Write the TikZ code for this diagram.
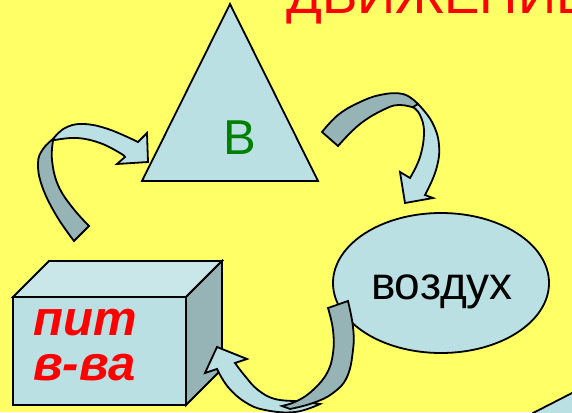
\documentclass[tikz,border=0pt]{standalone}
\usepackage{fontspec}
\setmainfont{Liberation Sans}
\definecolor{bg}{HTML}{FFFF66}
\definecolor{lb}{HTML}{BBE0E3}
\definecolor{db}{HTML}{96B3B5}
\definecolor{tb}{HTML}{C9E6E9}
\definecolor{gr}{HTML}{008000}
\tikzset{
  ln/.style={draw=black, line width=1.8pt, line join=miter},
  lightpart/.style={ln, fill=lb},
  darkpart/.style={ln, fill=db},
  toppart/.style={ln, fill=tb},
  sm/.style={smooth, tension=0.7},
}
\begin{document}
\begin{tikzpicture}[x=1pt,y=-1pt]
\useasboundingbox (0,0) rectangle (572,412);
\clip (0,0) rectangle (572,412);
\fill[bg] (0,0) rectangle (572,412);

% title (cut off at top)
\node[anchor=base west, inner sep=0, text=red, font=\fontsize{53}{60}\selectfont] (title) at (286,14) {ДВИЖЕНИЕ};

% triangle
\draw[lightpart] (230,4) -- (318,181) -- (142,181) -- cycle;
\node[text=gr, font=\fontsize{49}{55}\selectfont, inner sep=0] (tri) at (240,138) {В};

% ellipse
\draw[lightpart] (441,283) ellipse [x radius=108, y radius=70];
\node[anchor=base, inner sep=0, font=\fontsize{46}{52}\selectfont] (air) at (442,299) {воздух};

% cube
\draw[lightpart] (13,297) rectangle (186,405);
\draw[toppart] (13,297) -- (49,261) -- (222,261) -- (186,297) -- cycle;
\draw[darkpart] (186,297) -- (222,261) -- (222,369) -- (186,405) -- cycle;
\node[anchor=base west, inner sep=0, text=red, font=\fontsize{49}{45}\bfseries\itshape\selectfont] (l1) at (33,335) {пит};
\node[anchor=base west, inner sep=0, text=red, font=\fontsize{49}{45}\bfseries\itshape\selectfont] (l2) at (33,380) {в-ва};

% arrow A (cube -> triangle)
\draw[darkpart] plot[sm] coordinates {(74,241) (56,215) (42,186) (38,163) (43,149) (53,139)}
  -- plot[sm] coordinates {(53,141) (52,160) (58,185) (72,207) (89,226)} -- cycle;
\draw[lightpart] plot[sm] coordinates {(53,139) (65,128) (83,124) (108,129) (138,142)}
  -- (147,133) -- (148,162) -- (117,164) -- (125,157)
  -- plot[sm] coordinates {(125,157) (120,153) (100,143) (77,138) (55,140)} -- cycle;

% arrow B (triangle -> air)
\draw[darkpart] plot[sm] coordinates {(322,132) (338,115) (358,103) (380,95) (403,94) (418,104)}
  -- plot[sm] coordinates {(415,108) (400,105) (385,109) (360,124) (338,146)} -- cycle;
\draw[lightpart] plot[sm] coordinates {(418,104) (432,122) (439,145) (436,170) (425,195)}
  -- (433,198) -- (405,203) -- (400,172) -- (410,178)
  -- plot[sm] coordinates {(410,178) (420,157) (424,132) (420,115) (413,107)} -- cycle;

% arrow C (air -> cube)
\draw[lightpart] (235,363) -- (247,359) -- (217,347) -- (205,373) -- (217,369)
  -- plot[sm] coordinates {(217,369) (228,387) (245,402) (265,410) (295,412) (320,404)}
  -- plot[sm] coordinates {(297,401) (275,399) (258,390) (245,376) (235,363)} -- cycle;
\draw[darkpart] plot[sm] coordinates {(328,308) (333,330) (333,353) (327,373) (313,390) (297,401) (282,406)}
  -- plot[sm] coordinates {(290,409) (313,403) (333,393) (347,377) (353,350) (353,327) (348,301)} -- cycle;

% partial shape at bottom right
\draw[lightpart] (533,413) -- (574,392) -- (574,414) -- (533,414) -- cycle;
\end{tikzpicture}
\end{document}
